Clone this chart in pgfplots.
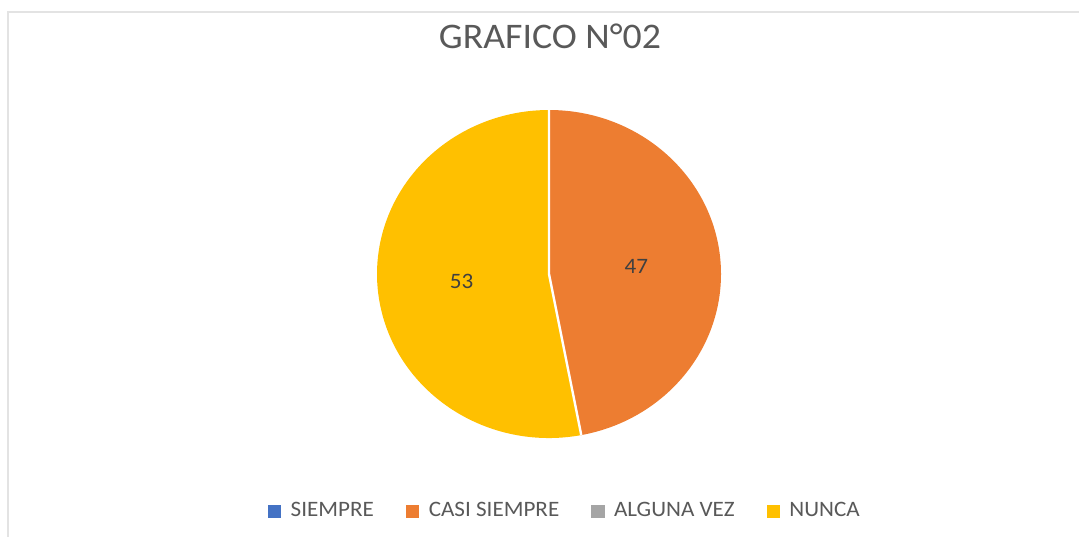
\documentclass[border=0pt]{standalone}
\usepackage{pgfplots}
\pgfplotsset{compat=1.18}
\usepackage{pgfplotstable}
\usepackage{fontspec}
\setmainfont{Carlito}

\definecolor{cSiempre}{HTML}{4472C4}
\definecolor{cCasi}{HTML}{ED7D31}
\definecolor{cAlguna}{HTML}{A5A5A5}
\definecolor{cNunca}{HTML}{FFC000}
\definecolor{txtgray}{HTML}{595959}
\definecolor{lblgray}{HTML}{404040}
\definecolor{frame}{HTML}{E3E3E3}

% the source image is slightly stretched horizontally
\newcommand\xs[1]{\scalebox{1.05}[1]{#1}}

% respuestas (porcentaje)
\pgfplotstableread{
cat value
SIEMPRE 0
CASI 47
ALGUNA 0
NUNCA 53
}\piedata

\pgfplotstablegetelem{0}{value}\of\piedata\pgfmathtruncatemacro\vA{\pgfplotsretval}
\pgfplotstablegetelem{1}{value}\of\piedata\pgfmathtruncatemacro\vB{\pgfplotsretval}
\pgfplotstablegetelem{2}{value}\of\piedata\pgfmathtruncatemacro\vC{\pgfplotsretval}
\pgfplotstablegetelem{3}{value}\of\piedata\pgfmathtruncatemacro\vD{\pgfplotsretval}
\pgfmathsetmacro\total{\vA+\vB+\vC+\vD}
% Excel: start at 12 o'clock, clockwise
\pgfmathsetmacro\sB{90-360*(\vA/\total)}
\pgfmathsetmacro\eB{\sB-360*(\vB/\total)}
\pgfmathsetmacro\sD{\eB-360*(\vC/\total)}
\pgfmathsetmacro\eD{\sD-360*(\vD/\total)}
\pgfmathsetmacro\mB{(\sB+\eB)/2}
\pgfmathsetmacro\mD{(\sD+\eD)/2}

\begin{document}
\begin{tikzpicture}
\path[use as bounding box] (0,0) rectangle (539.5pt,268.5pt);
\draw[frame, line width=1pt] (4pt,0) -- (4pt,262.5pt) -- (539.5pt,262.5pt);
\node[text=txtgray, font=\fontsize{18}{21}\selectfont] at (275pt,250.5pt) {\xs{GRAFICO N°02}};
\begin{axis}[
  at={(274.5pt,131.5pt)}, anchor=center,
  scale only axis, width=172pt, height=164pt,
  xmin=-1, xmax=1, ymin=-1, ymax=1,
  hide axis, clip=false,
  legend columns=4,
  legend style={at={(0.549,-0.223)}, anchor=center, draw=none,
    font=\fontsize{11}{13}\selectfont, text=txtgray,
    /tikz/every odd column/.append style={column sep=2.8pt},
    /tikz/every even column/.append style={column sep=14pt}},
  legend image code/.code={\fill[#1, draw=none] (0pt,-3.3pt) rectangle (6.6pt,3.3pt);},
]
\addlegendimage{fill=cSiempre}
\addlegendentry{\xs{SIEMPRE}}
\addlegendimage{fill=cCasi}
\addlegendentry{\xs{CASI SIEMPRE}}
\addlegendimage{fill=cAlguna}
\addlegendentry{\xs{ALGUNA VEZ}}
\addlegendimage{fill=cNunca}
\addlegendentry{\xs{NUNCA}}

\fill[cCasi] (axis cs:0,0) -- (axis cs:{cos(\sB)},{sin(\sB)})
  arc[start angle=\sB, end angle=\eB, x radius=86pt, y radius=82pt] -- cycle;
\fill[cNunca] (axis cs:0,0) -- (axis cs:{cos(\sD)},{sin(\sD)})
  arc[start angle=\sD, end angle=\eD, x radius=86pt, y radius=82pt] -- cycle;
\draw[white, line width=1.2pt] (axis cs:{cos(\sB)},{sin(\sB)}) -- (axis cs:0,0) -- (axis cs:{cos(\eB)},{sin(\eB)});

\node[text=lblgray, font=\fontsize{11}{13}\selectfont] at (axis cs:{0.51*cos(\mB)},{0.51*sin(\mB)}) {\xs{\vB}};
\node[text=lblgray, font=\fontsize{11}{13}\selectfont] at (axis cs:{0.51*cos(\mD)},{0.51*sin(\mD)}) {\xs{\vD}};
\end{axis}
\end{tikzpicture}
\end{document}
